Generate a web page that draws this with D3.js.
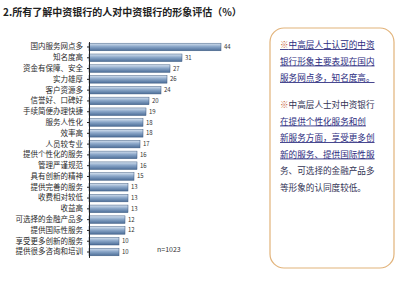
<!DOCTYPE html>
<html>
<head>
<meta charset="utf-8">
<script src="https://cdn.jsdelivr.net/npm/d3@7"></script>
<style>
  body { margin: 0; background: #fff; }
  svg { display: block; font-family: "Noto Sans CJK SC", sans-serif; }
</style>
</head>
<body>
<div id="chart"></div>
<script>
// data
var categories = [
  "国内服务网点多", "知名度高", "资金有保障、安全", "实力雄厚", "客户资源多",
  "信誉好、口碑好", "手续简便办理快捷", "服务人性化", "效率高", "人员较专业",
  "提供个性化的服务", "管理严谨规范", "具有创新的精神", "提供完善的服务", "收费相对较低",
  "收益高", "可选择的金融产品多", "提供国际性服务", "享受更多创新的服务", "提供很多咨询和培训"
];
var values = [44, 31, 27, 26, 24, 20, 19, 18, 18, 17, 16, 16, 15, 13, 13, 13, 12, 12, 10, 10];
var title = "2.所有了解中资银行的人对中资银行的形象评估（%）";
var note = "n=1023";
var boxLines = [
  { t: "※中高层人士认可的中资", u: true, mark: true },
  { t: "银行形象主要表现在国内", u: true },
  { t: "服务网点多，知名度高。", u: true },
  { t: "※中高层人士对中资银行", u: false, mark: true, gap: true },
  { t: "在提供个性化服务和创", u: true },
  { t: "新服务方面，享受更多创", u: true },
  { t: "新的服务、提供国际性服", u: true },
  { t: "务、可选择的金融产品多", u: false },
  { t: "等形象的认同度较低。", u: false }
];

var width = 400, height = 285;

var svg = d3.select("#chart")
  .append("svg")
  .attr("width", width)
  .attr("height", height);

// gradient for bars
var grad = svg.append("defs").append("linearGradient")
  .attr("id", "barGrad")
  .attr("x1", 0).attr("y1", 0).attr("x2", 0).attr("y2", 1);
grad.append("stop").attr("offset", "0%").attr("stop-color", "#d6e2f0");
grad.append("stop").attr("offset", "45%").attr("stop-color", "#8aa6c8");
grad.append("stop").attr("offset", "100%").attr("stop-color", "#4d6e98");

// title
svg.append("text")
  .attr("x", 3)
  .attr("y", 16)
  .style("font-size", "10px")
  .style("font-weight", "bold")
  .style("fill", "#222")
  .text(title);

// scales
var x = d3.scaleLinear()
  .domain([0, 47])
  .range([89, 230]);

var y = d3.scaleBand()
  .domain(categories)
  .range([41.6, 257.4])
  .paddingInner(0.3)
  .paddingOuter(0.15);

// bars
svg.append("g")
  .selectAll("rect")
  .data(values)
  .enter()
  .append("rect")
  .attr("x", x(0))
  .attr("y", function (d, i) { return y(categories[i]); })
  .attr("width", function (d) { return x(d) - x(0); })
  .attr("height", y.bandwidth())
  .style("fill", "url(#barGrad)")
  .style("stroke", "#3d5a80")
  .style("stroke-width", 0.5);

// value labels
svg.append("g")
  .selectAll("text")
  .data(values)
  .enter()
  .append("text")
  .attr("x", function (d) { return x(d) + 3; })
  .attr("y", function (d, i) { return y(categories[i]) + y.bandwidth() / 2 + 2; })
  .style("font-size", "6px")
  .style("fill", "#333")
  .text(function (d) { return d; });

// y axis
var yAxis = svg.append("g")
  .attr("transform", "translate(" + x(0) + ",0)")
  .call(d3.axisLeft(y).tickSize(2).tickSizeOuter(0).tickPadding(4));
yAxis.select(".domain").attr("stroke", "#222");
yAxis.selectAll(".tick line").attr("stroke", "#222");
yAxis.selectAll("text")
  .style("font-size", "7.5px")
  .style("fill", "#2a2a2a")
  .style("font-family", "'Noto Sans CJK SC', sans-serif");

// sample size
svg.append("text")
  .attr("x", 157)
  .attr("y", 252)
  .style("font-size", "7px")
  .style("fill", "#333")
  .text(note);

// right box
svg.append("rect")
  .attr("x", 270)
  .attr("y", 28)
  .attr("width", 124)
  .attr("height", 240)
  .attr("rx", 14)
  .style("fill", "none")
  .style("stroke", "#e2b37a")
  .style("stroke-width", 1.2);

var ly = 48;
boxLines.forEach(function (l, i) {
  if (i > 0) ly += l.gap ? 27 : 16.5;
  var t = svg.append("text")
    .attr("x", 280)
    .attr("y", ly)
    .style("font-size", "8.6px")
    .style("fill", l.u ? "#2b2b7e" : "#333355")
    .style("text-decoration", l.u ? "underline" : "none");
  if (l.mark) {
    t.append("tspan").style("fill", "#c8643a").text("※");
    t.append("tspan").text(l.t.slice(1));
  } else {
    t.text(l.t);
  }
});
</script>
</body>
</html>
